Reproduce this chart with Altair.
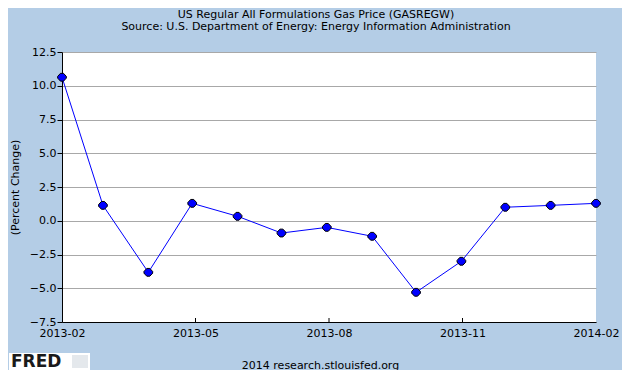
import altair as alt
import pandas as pd

dates = ["2013-02-01", "2013-03-01", "2013-04-01", "2013-05-01", "2013-06-01",
         "2013-07-01", "2013-08-01", "2013-09-01", "2013-10-01", "2013-11-01",
         "2013-12-01", "2014-01-01", "2014-02-01"]
values = [10.63, 1.14, -3.82, 1.29, 0.33, -0.91, -0.49, -1.15, -5.30, -3.00, 1.00, 1.14, 1.29]
y_ticks = [-7.5, -5.0, -2.5, 0.0, 2.5, 5.0, 7.5, 10.0, 12.5]
inner_ticks = ["2013-05-03T06:00:00Z", "2013-08-02T12:00:00Z", "2013-11-01T18:00:00Z"]

FONT = "DejaVu Sans"
BG = "#B4CDE6"

df = pd.DataFrame({"date": [d + "T00:00:00Z" for d in dates], "value": values})

xscale = alt.Scale(type="utc", domain=[alt.DateTime(year=2013, month=2, date=1, utc=True),
                                       alt.DateTime(year=2014, month=2, date=1, utc=True)])
xaxis = alt.Axis(
    values=[alt.DateTime(year=2013, month=2, date=1, utc=True),
            alt.DateTime(year=2013, month=5, date=3, hours=6, utc=True),
            alt.DateTime(year=2013, month=8, date=2, hours=12, utc=True),
            alt.DateTime(year=2013, month=11, date=1, hours=18, utc=True),
            alt.DateTime(year=2014, month=2, date=1, utc=True)],
    labelExpr="utcFormat(datum.value, '%Y-%m')",
    labelFlush=False, labelOverlap=False, labelBound=False,
    ticks=False, grid=False, domainColor="black", labelPadding=5,
    labelFont=FONT, labelFontSize=11, labelColor="black",
    title="2014 research.stlouisfed.org", titleFont=FONT, titleFontSize=11,
    titleFontWeight="normal", titleColor="black", titleX=258, titleY=43,
    titleBaseline="middle",
)
x_enc = alt.X("date:T", scale=xscale, axis=xaxis)

y_enc = alt.Y("value:Q", scale=alt.Scale(domain=[-7.5, 12.5], nice=False, zero=False),
              axis=alt.Axis(values=y_ticks, format=".1f", tickSize=5, tickColor="black",
                            domainColor="black", gridColor="#A8A8A8", labelPadding=1,
                            labelFont=FONT, labelFontSize=11, labelColor="black",
                            title="(Percent Change)", titleFont=FONT, titleFontSize=11,
                            titleFontWeight="normal", titleColor="black", titlePadding=9))

base = alt.Chart(df)
line = base.mark_line(color="#0000FF", strokeWidth=1).encode(x=x_enc, y=y_enc)
pts = base.mark_point(
    shape="M-0.35,-0.9L0.35,-0.9L1,-0.2L1,0.2L0.35,0.9L-0.35,0.9L-1,0.2L-1,-0.2Z",
    size=75, filled=True, fill="#0000FF", stroke="black", strokeWidth=1, opacity=1,
).encode(x=x_enc, y=y_enc)

ticks = alt.Chart(alt.Data(values=[{"date": t} for t in inner_ticks])).mark_rule(
    color="black", strokeWidth=1
).encode(x=x_enc, y=alt.value(266), y2=alt.value(270))

logo_box = alt.Chart(alt.Data(values=[{}])).mark_rect(color="white").encode(
    x=alt.value(-53), x2=alt.value(28), y=alt.value(301), y2=alt.value(318))
logo_text = alt.Chart(alt.Data(values=[{}])).mark_text(
    text="FRED", font=FONT, fontWeight="bold", fontSize=17, align="left",
    baseline="middle", color="#1a1a1a").encode(x=alt.value(-51), y=alt.value(310))
logo_icon = alt.Chart(alt.Data(values=[{}])).mark_rect(color="#E4E8EC").encode(
    x=alt.value(10), x2=alt.value(26), y=alt.value(303), y2=alt.value(316))

chart = alt.layer(line, pts, ticks, logo_box, logo_text, logo_icon).properties(
    width=534, height=270,
    title=alt.TitleParams(
        text="US Regular All Formulations Gas Price (GASREGW)",
        subtitle="Source: U.S. Department of Energy: Energy Information Administration",
        font=FONT, subtitleFont=FONT, fontSize=11, subtitleFontSize=11,
        fontWeight="normal", color="black", subtitleColor="black",
        anchor="middle", dx=-13, offset=14, subtitlePadding=1,
    ),
    autosize=alt.AutoSizeParams(type="none"),
    padding={"left": 54, "top": 44, "right": 26, "bottom": 48},
    background=BG,
).configure_view(fill="white", strokeWidth=0)

chart.save("out.html", embed_options={"renderer": "svg", "actions": False})
